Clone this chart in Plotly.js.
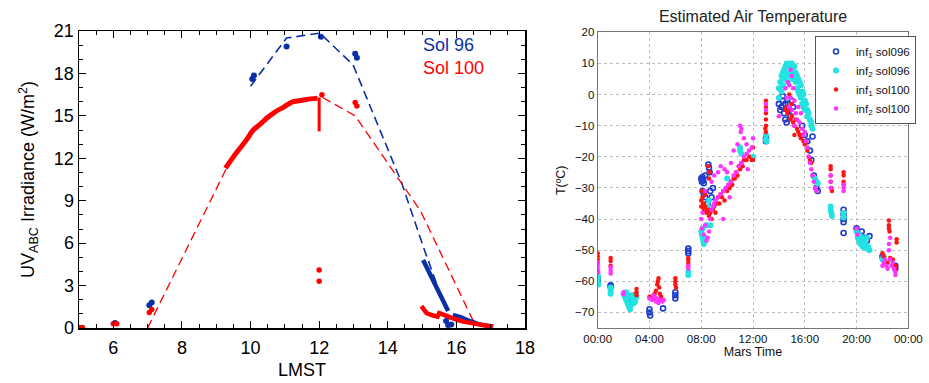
<!DOCTYPE html>
<html><head><meta charset="utf-8">
<script src="https://cdn.plot.ly/plotly-3.0.1.min.js"></script>
<style>html,body{margin:0;padding:0;background:#fff}#c{width:929px;height:383px}</style>
</head><body><div id="c"></div>
<script>
// ---------- Left chart: UV irradiance (LMST hours) ----------
const sol96ModelX = [10.0, 11.05, 12.02, 12.99, 14.4, 15.1, 15.8];
const sol96ModelY = [17.1, 20.5, 20.85, 18.6, 10.3, 5.3, 0.6];
const sol100ModelX = [7.0, 9.3, null, 12.1, 13.05, 14.95, 16.55];
const sol100ModelY = [0.0, 11.3, null, 16.3, 15.0, 8.3, 0.2];

const sol96DotsX = [6.05, 7.05, 7.12, 10.05, 10.1, 11.05, 12.05, 13.05, 13.1, 15.76, 15.85, 15.7];
const sol96DotsY = [0.35, 1.6, 1.8, 17.6, 17.85, 19.9, 20.6, 19.4, 19.1, 0.2, 0.25, 0.5];
const sol100DotsX = [5.0, 5.1, 6.0, 6.1, 7.05, 7.12, 12.0, 12.0, 12.08, 13.05, 13.1];
const sol100DotsY = [0.03, 0.03, 0.3, 0.3, 1.1, 1.3, 4.1, 3.3, 16.5, 15.95, 15.7];

const sol100CurveX = [9.27, 9.5, 9.88, 10.08, 10.3, 10.47, 10.7, 10.95, 11.24, 11.5, 11.75, 11.95];
const sol100CurveY = [11.3, 12.1, 13.3, 14.0, 14.45, 14.83, 15.25, 15.6, 16.0, 16.1, 16.2, 16.25];
const sol100SpikeX = [12.0, 12.0];
const sol100SpikeY = [16.3, 13.9];
const sol96FallX = [15.03, 15.2, 15.4, 15.6, 15.76];
const sol96FallY = [4.8, 4.0, 3.0, 2.0, 1.2];
const sol96TailX = [15.9, 16.1, 16.4, 16.7, 17.07];
const sol96TailY = [0.95, 0.8, 0.5, 0.25, 0.1];
const sol100FallX = [14.98, 15.05, 15.13, 15.3, 15.45, 15.5, 15.6, 15.8, 16.0, 16.2, 16.5, 16.8, 17.07];
const sol100FallY = [1.55, 1.35, 1.05, 0.9, 0.8, 1.05, 0.95, 0.75, 0.6, 0.45, 0.3, 0.2, 0.1];

const lmstTicks = [6, 8, 10, 12, 14, 16, 18];
const uvTicks = [0, 3, 6, 9, 12, 15, 18, 21];

// ---------- Right chart: estimated air temperature (Mars hours) ----------
const inf1Sol096H = [0.0,0.0, 1.0,1.0, 2.2,2.4,2.6,2.8,2.5,2.9, 4.0,4.0,4.05, 5.05, 6.0,6.0,6.0, 7.0,7.0,7.0,
  8.0,8.05,8.1,8.15,8.2,8.3,8.1,8.2,8.3,8.55,8.6,8.65,8.7,8.8,8.5,8.9, 13.0,13.0,
  14.0,14.1,14.2,14.3,14.4,14.5,14.6,14.7,14.8,14.9,15.0,15.1,14.3,14.5,
  15.8,16.0,16.2,16.4,16.5,16.7,16.9,17.0,16.6, 19.0,19.0,19.0,19.0,19.0,
  20.0,20.2,20.4,20.6,20.8,21.0,20.3, 22.0,23.0,23.0];
const inf1Sol096T = [-59,-60, -61.3,-61.8, -64,-65,-65.5,-66,-67,-64.5, -69,-70,-71, -68.7, -63.5,-64.5,-65.5, -49.5,-50.3,-51,
  -27,-28,-26.5,-27.5,-28.5,-26,-31,-32,-33,-22.5,-23.5,-25,-31,-33,-35,-30, -15,-14,
  -3,-5,-4,-2,-6,-8,-9,-3,-5,-7,-2,-4,-0.5,-3,
  -10,-13,-15,-18,-21,-26,-30,-31,-13.5, -37,-38.5,-40,-41,-44.5,
  -43,-45,-44,-46,-47,-45.5,-47, -52,-56,-55];

const inf2Sol096H = [0.0,0.0,0.0,0.05, 1.0,1.0,1.0,
  2.0,2.1,2.2,2.3,2.4,2.5,2.6,2.7,2.8,2.9,3.0,2.4,2.6,2.2,2.8, 7.0,7.0,
  8.0,8.05,8.1,8.15,8.2,8.1,8.3,8.4,8.5,8.6,8.7, 10.0,11.0,11.0,11.1,12.0, 13.0,13.0,13.05,
  14.0,14.0,14.1,14.2,14.2,14.3,14.3,14.4,14.4,14.5,14.5,14.6,14.6,14.7,14.7,14.8,14.8,14.9,15.0,15.0,
  15.1,15.1,15.2,15.2,15.3,15.3,15.4,15.4,15.5,15.5,15.6,15.6,15.7,15.7,15.8,15.8,15.9,15.9,16.0,16.0,
  16.1,16.2,16.2,16.3,16.4,16.5,16.5,16.6, 16.8,16.9,17.0, 18.0,18.0,18.05,18.1, 19.0,19.0,
  20.0,20.1,20.2,20.3,20.4,20.5,20.6,20.7,20.8,20.9,21.0,20.2,20.5,20.8, 22.0,22.1];
const inf2Sol096T = [-58,-59,-60,-61, -62,-63,-64,
  -64,-65,-66,-67,-68,-69,-67.5,-66,-65,-66.5,-65,-65,-64.5,-63.5,-67, -57,-58,
  -44,-45,-46,-47,-48,-43,-46,-42,-36,-34,-42, -27,-18,-17,-19,-20, -13,-14.5,-15,
  -1,2,4,6,1,7,3,8,5,9,6,10,7,9,4,10,6,9,10,7,
  8,5,9,6,7,4,6,2,5,1,4,0,3,-1,1,-3,0,-4,-2,-5,
  -3,-5,-7,-6,-8,-10,-9,-11, -27,-28,-28.5, -36,-37,-38,-39, -38,-39.5,
  -44,-46,-47,-48,-46,-49,-47,-48,-46,-49,-50,-45,-47.5,-49.5, -53,-52];

const inf1Sol100H = [0.0,0.0,0.0,0.0, 1.0,1.0,1.0, 3.0,3.0,3.0,
  4.2,4.4,4.5,4.6,4.7,4.65,4.75,4.8,4.9,5.0,4.0,4.3, 6.0,6.0,6.0,6.05, 7.0,7.0,7.0,7.0,
  8.0,8.0,8.05,8.1,8.15,8.2,8.3,8.4,8.5,8.6,8.7,8.8,8.9,9.0,9.1,9.2,8.55,8.6,8.6,8.3,
  9.3,9.5,9.7,9.9,10.1,10.3,10.5,10.7,10.9,11.1,11.3,11.5,11.7,11.9,12.0,12.0,
  9.4,9.6,9.8,10.0,10.2,10.4,10.6,10.8,11.0,11.2,
  13.0,13.0,13.0,13.0,13.0,13.0,12.95,
  14.5,14.6,14.7,14.8,14.9,15.0,15.1,15.2,15.3,15.4,15.5,15.6,15.7,15.8,15.9,16.0,16.1,16.2,16.3,16.4,16.5,14.8,15.0,15.2,
  18.0,18.0,18.0,18.0,18.05,18.1, 19.0,19.0,19.0,19.0,
  22.0,22.1,22.5,22.5,22.5,22.55,22.4,22.6,22.8,23.0,23.0,23.1,23.1];
const inf1Sol100T = [-51,-52,-53,-54, -52.5,-53.5,-55, -62.5,-63.5,-64.5,
  -65,-64,-63,-61,-59,-60,-62,-64,-65,-66,-65,-65.5, -59,-60,-61,-62, -53,-54,-55,-52.5,
  -34,-36,-31,-33,-35,-37,-36,-38,-37,-39,-38,-40,-37,-36,-38,-35,-23,-25,-27,-32,
  -33,-32,-31,-30,-29,-28,-27,-25,-23,-22,-21,-21,-20,-21,-21,-17,
  -35,-33,-34,-31,-30,-29,-27,-26,-24,-23,
  -2,-4,-6,-8,-10,-12,-11,
  -5,-4,-6,-5,-8,-7,-9,-10,-8,-11,-12,-13,-14,-13,-15,-16,-15,-18,-20,-21,-22,0,-3,-13,
  -23,-24,-26,-28,-30,-31, -25,-26,-28,-29,
  -51,-52,-40.5,-42,-43,-44,-54,-52.5,-53,-55,-56,-46.5,-47.5];

const inf2Sol100H = [0.0,0.0,0.0,0.05, 1.0,1.0,1.0, 2.0,2.0,
  4.0,4.2,4.4,4.5,4.6,4.8,5.0,5.1,4.3,4.7, 7.0,7.0,
  8.0,8.05,8.1,8.2,8.3,8.4,8.5,8.6,8.7,8.8,8.9,9.0,9.1,9.3,9.5,9.7,9.9,10.1,10.3,10.5,10.7,10.9,11.1,11.3,11.5,11.7,11.9,
  9.0,9.3,9.5,9.8,10.0,10.3,10.5,10.8,11.0,11.05,11.1,11.3,11.5,12.0,8.8,9.7,8.3,10.2,11.6,
  13.0,13.0, 14.0,
  14.5,14.7,14.8,14.9,15.0,15.1,14.6,14.8,15.0,15.2,15.3,15.4,15.5,15.6,15.7,15.8,15.9,16.0,16.1,16.2,16.3,16.4,16.5,16.6,16.7,16.8,16.9,15.2,14.9,
  18.0,18.0,18.0, 19.0,19.0,19.0, 20.0,20.05,
  22.0,22.1,22.2,22.3,22.4,22.5,22.5,22.6,22.7,22.8,22.9,23.0,23.0,22.6];
const inf2Sol100T = [-54,-55,-56,-57, -55.5,-56.5,-57.5, -63.5,-64.2,
  -65.5,-66,-65,-66.5,-65.5,-66,-66.5,-66,-64.5,-67, -55,-56,
  -40,-43,-38,-45,-42,-47,-46,-44,-40,-37,-36,-35,-34,-33,-32,-31,-30,-29,-28,-26,-25,-23,-22,-20,-19,-18,-17,
  -26,-25,-23,-24,-25,-22,-18,-16,-10,-12,-11,-14,-16,-14,-28,-40,-31,-33,-24,
  -3,-5, -7,
  2,4,3,8,6,2,-1,-4,-5,-2,-6,-8,-4,-9,-6,-11,-13,-12,-15,-17,-20,-22,-24,-26,-28,-30,-31,-10,-1,
  -26,-28,-30, -29,-30,-31, -43,-45,
  -55,-54,-53,-55,-56,-48,-50,-53,-55,-54,-56,-57,-58,-46];

const marsTickVals = [0, 4, 8, 12, 16, 20, 24];
const marsTickText = ['00:00', '04:00', '08:00', '12:00', '16:00', '20:00', '00:00'];
const tempTicks = [20, 10, 0, -10, -20, -30, -40, -50, -60, -70];

// ---------- styles ----------
const BLUE = '#0b2fa8', RED = '#ff0000';
const LF = 'Liberation Sans, Arial, sans-serif';

const traces = [
  {x: sol96ModelX, y: sol96ModelY, mode: 'lines', line: {color: BLUE, width: 1.6, dash: '9px,5px'}, xaxis: 'x', yaxis: 'y', showlegend: false},
  {x: sol100ModelX, y: sol100ModelY, mode: 'lines', connectgaps: false, line: {color: RED, width: 1.3, dash: '9px,5px'}, xaxis: 'x', yaxis: 'y', showlegend: false},
  {x: sol100CurveX, y: sol100CurveY, mode: 'lines', line: {color: RED, width: 5, shape: 'spline'}, xaxis: 'x', yaxis: 'y', showlegend: false},
  {x: sol100SpikeX, y: sol100SpikeY, mode: 'lines', line: {color: RED, width: 3}, xaxis: 'x', yaxis: 'y', showlegend: false},
  {x: sol96FallX, y: sol96FallY, mode: 'lines', line: {color: BLUE, width: 4.5}, xaxis: 'x', yaxis: 'y', showlegend: false},
  {x: sol96TailX, y: sol96TailY, mode: 'lines', line: {color: BLUE, width: 4, shape: 'spline'}, xaxis: 'x', yaxis: 'y', showlegend: false},
  {x: sol100FallX, y: sol100FallY, mode: 'lines', line: {color: RED, width: 4.5}, xaxis: 'x', yaxis: 'y', showlegend: false},
  {x: sol96DotsX, y: sol96DotsY, mode: 'markers', marker: {color: BLUE, size: 6}, xaxis: 'x', yaxis: 'y', showlegend: false},
  {x: sol100DotsX, y: sol100DotsY, mode: 'markers', marker: {color: RED, size: 5.5}, xaxis: 'x', yaxis: 'y', showlegend: false},

  {x: inf1Sol096H, y: inf1Sol096T, name: 'inf<sub>1</sub> sol096', legendgroup: 'a', mode: 'markers', marker: {symbol: 'circle-open', color: '#1f3ccc', size: 5, line: {width: 1.6}}, xaxis: 'x2', yaxis: 'y2'},
  {x: inf2Sol096H, y: inf2Sol096T, name: 'inf<sub>2</sub> sol096', legendgroup: 'b', mode: 'markers', marker: {symbol: 'circle', color: '#22e2e2', size: 6}, xaxis: 'x2', yaxis: 'y2'},
  {x: inf1Sol100H, y: inf1Sol100T, name: 'inf<sub>1</sub> sol100', legendgroup: 'c', mode: 'markers', marker: {symbol: 'circle', color: '#ff1414', size: 4.5}, xaxis: 'x2', yaxis: 'y2'},
  {x: inf2Sol100H, y: inf2Sol100T, name: 'inf<sub>2</sub> sol100', legendgroup: 'd', mode: 'markers', marker: {symbol: 'circle', color: '#ff33ff', size: 4.5}, xaxis: 'x2', yaxis: 'y2'}
];

const layout = {
  width: 929, height: 383,
  margin: {l: 0, r: 0, t: 0, b: 0},
  paper_bgcolor: '#fff', plot_bgcolor: '#fff',
  showlegend: true,
  title: {text: 'Estimated Air Temperature', x: 753/929, xanchor: 'center', y: 1 - 16/383, yanchor: 'middle',
          font: {family: LF, size: 16, color: '#222'}},
  xaxis: {
    domain: [79/929, 525/929], range: [5, 18], tickvals: lmstTicks, anchor: 'y',
    ticks: 'inside', ticklen: 7, tickwidth: 1, tickcolor: '#000', mirror: 'allticks',
    showline: true, linecolor: '#000', linewidth: 1.5, showgrid: false, zeroline: false,
    minor: {dtick: 0.5, tick0: 5, ticks: 'inside', ticklen: 4, tickcolor: '#000', showgrid: false},
    tickfont: {family: LF, size: 18, color: '#000'}, ticklabelstandoff: 3,
    title: {text: 'LMST', font: {family: LF, size: 18, color: '#000'}, standoff: 6}
  },
  yaxis: {
    domain: [1 - 328/383, 1 - 31/383], range: [0, 21], tickvals: uvTicks, anchor: 'x',
    ticks: 'inside', ticklen: 7, tickwidth: 1, tickcolor: '#000', mirror: 'allticks',
    showline: true, linecolor: '#000', linewidth: 1.5, showgrid: false, zeroline: false,
    minor: {dtick: 1, tick0: 0, ticks: 'inside', ticklen: 4, tickcolor: '#000', showgrid: false},
    tickfont: {family: LF, size: 18, color: '#000'},
    title: {text: 'UV<sub>ABC</sub> Irradiance (W/m<sup>2</sup>)', font: {family: LF, size: 18, color: '#000'}, standoff: 14}
  },
  xaxis2: {
    domain: [597.7/929, 908.3/929], range: [0, 24], tickvals: marsTickVals, ticktext: marsTickText, anchor: 'y2',
    showline: true, mirror: true, linecolor: '#777', linewidth: 1, zeroline: false,
    showgrid: true, gridcolor: '#bdbdbd', griddash: 'dot', gridwidth: 1, ticks: '',
    tickfont: {family: LF, size: 11.5, color: '#111'},
    title: {text: 'Mars Time', font: {family: LF, size: 12.5, color: '#111'}, standoff: 2}
  },
  yaxis2: {
    domain: [1 - 328.3/383, 1 - 32.3/383], range: [-75.1, 20], tickvals: tempTicks, anchor: 'x2',
    showline: true, mirror: true, linecolor: '#777', linewidth: 1, zeroline: false,
    showgrid: true, gridcolor: '#bdbdbd', griddash: 'dot', gridwidth: 1, ticks: '',
    tickfont: {family: LF, size: 11.5, color: '#111'},
    title: {text: 'T(ºC)', font: {family: LF, size: 12.5, color: '#111'}, standoff: 6}
  },
  legend: {
    x: 815/929, y: 1 - 36/383, xanchor: 'left', yanchor: 'top',
    bordercolor: '#555', borderwidth: 1, bgcolor: '#fff', traceorder: 'grouped', tracegroupgap: 0,
    font: {family: LF, size: 11.5, color: '#111'}, itemwidth: 30
  },
  annotations: [
    {text: 'Sol 96', x: 421/929, y: 1 - 45/383, xref: 'paper', yref: 'paper', xanchor: 'left', yanchor: 'middle', showarrow: false, font: {family: LF, size: 18, color: BLUE}},
    {text: 'Sol 100', x: 421/929, y: 1 - 68/383, xref: 'paper', yref: 'paper', xanchor: 'left', yanchor: 'middle', showarrow: false, font: {family: LF, size: 18, color: RED}}
  ]
};

Plotly.newPlot('c', traces, layout, {displayModeBar: false, staticPlot: true});
</script>
</body></html>
